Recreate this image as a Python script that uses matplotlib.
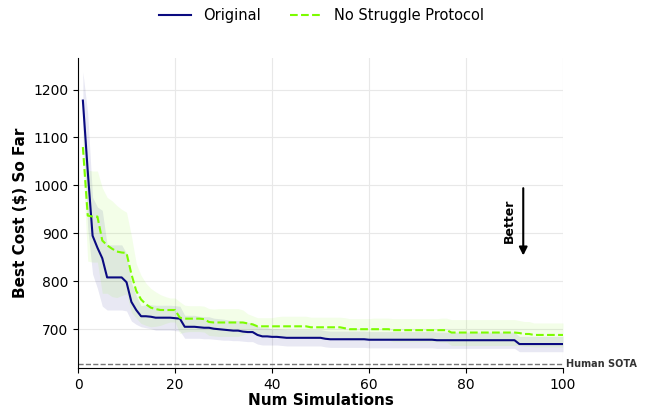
import numpy as np
import matplotlib
matplotlib.use("Agg")
import matplotlib.pyplot as plt

# Number of simulations (x axis)
sims = list(range(1, 101))

# Original: mean best cost so far and its spread
original_mean = [
    1177, 1030, 895, 870, 848, 808, 808, 808, 808, 798,
    757, 740, 727, 727, 726, 724, 724, 724, 724, 723,
    722, 705, 705, 705, 704, 703, 703, 701, 700, 699,
    698, 697, 697, 695, 694, 694, 688, 685, 685, 684,
    684, 683, 682, 682, 682, 682, 682, 682, 682, 682,
    680, 679, 679, 679, 679, 679, 679, 679, 679, 678,
    678, 678, 678, 678, 678, 678, 678, 678, 678, 678,
    678, 678, 678, 677, 677, 677, 677, 677, 677, 677,
    677, 677, 677, 677, 677, 677, 677, 677, 677, 677,
    669, 669, 669, 669, 669, 669, 669, 669, 669, 669,
]
original_std = [
    60, 120, 80, 85, 100, 68, 68, 68, 68, 60,
    40, 30, 22, 24, 25, 26, 26, 26, 26, 26,
    26, 24, 24, 24, 23, 23, 23, 22, 22, 22,
    21, 21, 21, 20, 20, 20, 19, 18, 18, 17,
    17, 17, 17, 17, 17, 17, 17, 17, 17, 17,
    17, 17, 17, 17, 17, 17, 17, 17, 17, 17,
    17, 17, 17, 17, 17, 17, 17, 17, 17, 17,
    17, 17, 17, 17, 17, 17, 17, 17, 17, 17,
    17, 17, 17, 17, 17, 17, 17, 17, 17, 17,
    16, 16, 16, 16, 16, 16, 16, 16, 16, 16,
]

# No Struggle Protocol: mean best cost so far and its spread
nsp_mean = [
    1080, 937, 935, 935, 885, 875, 868, 862, 860, 859,
    815, 780, 762, 752, 745, 742, 740, 740, 740, 740,
    724, 722, 722, 722, 722, 721, 715, 714, 714, 714,
    714, 714, 714, 714, 712, 710, 706, 706, 706, 706,
    706, 706, 706, 706, 706, 706, 706, 704, 704, 704,
    704, 704, 704, 704, 702, 700, 700, 700, 700, 700,
    700, 700, 700, 700, 698, 698, 698, 698, 698, 698,
    698, 698, 698, 698, 698, 698, 693, 693, 693, 693,
    693, 693, 693, 693, 693, 693, 693, 693, 693, 693,
    692, 690, 690, 688, 688, 688, 688, 688, 688, 688,
]
nsp_std = [
    40, 95, 95, 95, 110, 100, 100, 96, 90, 85,
    80, 57, 50, 44, 40, 36, 32, 28, 25, 25,
    33, 28, 27, 27, 27, 27, 28, 28, 29, 29,
    29, 29, 29, 26, 20, 18, 18, 18, 18, 18,
    20, 21, 21, 21, 21, 21, 21, 21, 21, 21,
    21, 21, 21, 21, 22, 22, 22, 22, 22, 22,
    23, 23, 23, 23, 24, 24, 24, 24, 24, 24,
    24, 24, 24, 24, 25, 25, 27, 27, 27, 27,
    27, 27, 27, 27, 27, 27, 27, 27, 27, 27,
    26, 26, 26, 25, 25, 25, 25, 25, 25, 25,
]

human_sota = 627

series = [
    ("Original", original_mean, original_std, "#0a0a80", "-"),
    ("No Struggle Protocol", nsp_mean, nsp_std, "#7cfc00", "--"),
]

fig = plt.figure(figsize=(6.47, 4.11), dpi=100)
ax = fig.add_axes([0.1206, 0.1046, 0.7496, 0.7545])

x = np.array(sims)
for label, mean, std, color, ls in series:
    m = np.array(mean, dtype=float)
    s = np.array(std, dtype=float)
    ax.fill_between(x, m - s, m + s, color=color, alpha=0.09, linewidth=0)
    ax.plot(x, m, color=color, linestyle=ls, linewidth=1.5, label=label)

ax.axhline(human_sota, color="#777777", linestyle="--", linewidth=1.0)
ax.text(100.7, human_sota, "Human SOTA", fontsize=7, fontweight="bold",
        color="#333333", ha="left", va="center", clip_on=False)

# "Better" direction arrow
ax.annotate("", xy=(91.8, 848), xytext=(91.8, 1000),
            arrowprops=dict(arrowstyle="-|>", color="black", lw=1.5,
                            mutation_scale=12))
ax.text(89.0, 927, "Better", rotation=90, fontsize=9, fontweight="bold",
        ha="center", va="center")

ax.set_xlim(0, 100)
ax.set_ylim(619, 1266)
ax.set_xticks([0, 20, 40, 60, 80, 100])
ax.set_yticks([700, 800, 900, 1000, 1100, 1200])
ax.tick_params(labelsize=10)
ax.grid(True, color="#e8e8e8", linewidth=0.8)
ax.set_axisbelow(True)
for side in ("top", "right"):
    ax.spines[side].set_visible(False)

ax.set_xlabel("Num Simulations", fontsize=11, fontweight="bold", labelpad=1)
ax.set_ylabel("Best Cost ($) So Far", fontsize=11, fontweight="bold")

fig.legend(loc="upper center", bbox_to_anchor=(0.497, 1.012), ncol=2,
           frameon=False, fontsize=10.5, columnspacing=2.0, handlelength=2.2)

fig.savefig("out.png", dpi=100)
